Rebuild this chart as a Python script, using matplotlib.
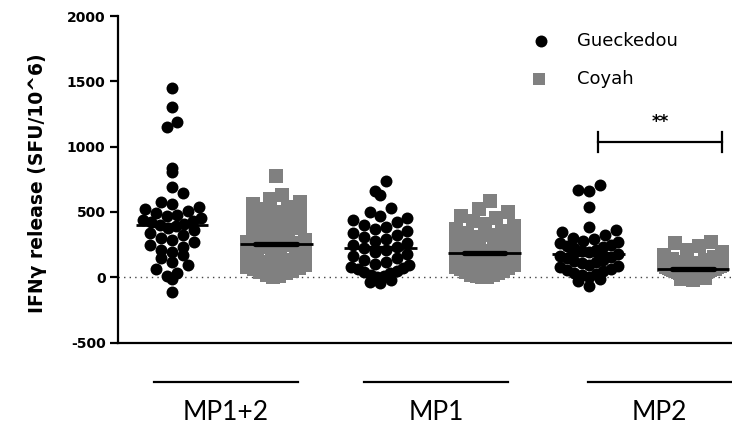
import numpy as np
import matplotlib
matplotlib.use("Agg")
import matplotlib.pyplot as plt

plt.rcParams["axes.unicode_minus"] = False

# values (IFNg SFU / 10^6)
gue_mp12 = [1447, 1306, 1191, 1153, 834, 808, 693, 642, 573, 560, 540, 520, 510, 490,
            480, 470, 455, 440, 430, 420, 410, 400, 390, 375, 360, 340, 320, 300, 285,
            270, 250, 230, 210, 190, 170, 150, 120, 90, 60, 30, 10, -15, -113]
coy_mp12 = [777, 629, 600, 578, 560, 540, 520, 500, 480, 460, 440, 420, 400, 380, 360,
            340, 320, 300, 285, 270, 260, 253, 245, 235, 225, 210, 195, 180, 165, 150,
            135, 120, 105, 90, 80, 70, 60, 50, 40, 30, 20, 10, 0]
gue_mp1 = [734, 662, 631, 527, 496, 470, 455, 440, 420, 400, 385, 370, 355, 340, 325,
           310, 295, 280, 265, 250, 235, 220, 205, 190, 175, 160, 145, 130, 115, 100,
           90, 80, 70, 60, 50, 40, 30, 20, 10, 0, -20, -35, -46]
coy_mp1 = [585, 521, 498, 470, 450, 430, 410, 390, 370, 350, 335, 320, 305, 290, 275,
           260, 245, 230, 215, 200, 190, 184, 178, 170, 160, 150, 140, 130, 120, 110,
           100, 90, 80, 70, 60, 50, 40, 30, 20, 15, 10, 5, 0]
gue_mp2 = [706, 670, 662, 534, 386, 360, 343, 322, 300, 290, 280, 270, 260, 250, 240,
           230, 220, 210, 200, 190, 176, 165, 155, 145, 135, 125, 115, 105, 95, 85,
           75, 65, 55, 45, 35, 25, 15, 5, -10, -30, -67]
coy_mp2 = [266, 262, 240, 210, 190, 170, 155, 140, 130, 120, 110, 100, 95, 90, 85,
           80, 75, 70, 66, 63, 61, 58, 55, 50, 45, 40, 36, 32, 28, 24, 20, 17, 14,
           11, 8, 5, 3, 0, -5, -10, -20]

groups = [gue_mp12, coy_mp12, gue_mp1, coy_mp1, gue_mp2, coy_mp2]
sites = ["Gueckedou", "Coyah"]
peptides = ["MP1+2", "MP1", "MP2"]
site_color = {"Gueckedou": "black", "Coyah": "#808080"}
site_marker = {"Gueckedou": "o", "Coyah": "s"}

PX_X = 104.2        # pixels per x unit
PX_Y = 0.1304       # pixels per y unit


def spread(vals, d=12.0, maxoff=29.0):
    # prism-like scatter: bin by marker height, spread each bin sideways
    vals = np.asarray(vals, dtype=float)
    ypx = vals * PX_Y
    bins = np.floor(ypx / d).astype(int)
    offs = np.zeros(len(vals))
    for b in np.unique(bins):
        idx = np.where(bins == b)[0]
        idx = idx[np.argsort(vals[idx])]
        n = len(idx)
        if n == 1:
            continue
        sp = min(d * 0.9, 2 * maxoff / (n - 1))
        pos = (np.arange(n) - (n - 1) / 2) * sp
        order = np.argsort(np.abs(pos), kind="stable")
        offs[idx] = pos[order]
    return offs / PX_X


fig = plt.figure(figsize=(7.32, 4.25), dpi=100)
ax = fig.add_axes([118 / 732, 1 - 342.5 / 425, 614 / 732, 326.5 / 425])

for pos, vals in enumerate(groups):
    site = sites[pos % 2]
    vals = np.array(vals, dtype=float)
    xs = pos + spread(vals, d=12 if site == "Gueckedou" else 13)
    ms = 8.6 if site == "Gueckedou" else 9.4
    ax.scatter(xs, vals, s=ms ** 2, marker=site_marker[site], color=site_color[site],
               linewidths=0, zorder=3)
    med = np.median(vals)
    ax.plot([pos - 0.35, pos + 0.35], [med, med], color="black", lw=2.0, zorder=4,
            solid_capstyle="butt")
    ax.plot([pos - 0.2, pos + 0.2], [med, med], color="black", lw=3.8, zorder=4,
            solid_capstyle="round")

ax.axhline(0, color="#444444", lw=1.0, ls=(0, (1, 3)), zorder=1)

ax.set_xlim(-0.518, 5.374)
ax.set_ylim(-500, 2000)
ax.set_yticks([-500, 0, 500, 1000, 1500, 2000])
ax.set_xticks([])
for s in ["top", "right"]:
    ax.spines[s].set_visible(False)
for s in ["left", "bottom"]:
    ax.spines[s].set_linewidth(1.6)
ax.tick_params(axis="y", length=6, width=1.6, pad=3, labelsize=10)
for lab in ax.get_yticklabels():
    lab.set_fontweight("bold")

fig.text(38 / 732, 1 - 183 / 425, "IFN\u03b3 release (SFU/10^6)", rotation=90,
         ha="center", va="center", fontsize=13.5, fontweight="bold")

# significance bracket
ax.plot([4.09, 5.28], [1035, 1035], color="black", lw=1.6)
ax.plot([4.09, 4.09], [960, 1110], color="black", lw=1.6)
ax.plot([5.28, 5.28], [960, 1110], color="black", lw=1.6)
ax.text(4.685, 1185, "**", ha="center", va="center", fontsize=12, fontweight="bold")

# legend
ax.scatter([0.689], [0.923], s=8.6 ** 2, marker="o", color="black", linewidths=0,
           transform=ax.transAxes, clip_on=False)
ax.scatter([0.686], [0.807], s=9.4 ** 2 * 0.8, marker="s", color="#808080", linewidths=0,
           transform=ax.transAxes, clip_on=False)
ax.text(0.748, 0.923, "Gueckedou", transform=ax.transAxes, va="center", fontsize=13)
ax.text(0.748, 0.807, "Coyah", transform=ax.transAxes, va="center", fontsize=13)

# peptide group labels under the axis
xt = ax.get_xaxis_transform()
spans = [(-0.173, 1.209), (1.843, 3.225), (3.99, 5.37)]
for (a, b), name in zip(spans, peptides):
    ax.plot([a, b], [-0.121, -0.121], color="black", lw=1.6, transform=xt, clip_on=False)
    ax.text((a + b) / 2, -0.215, name, transform=xt, ha="center", va="center",
            fontsize=19, family="Lato")

fig.savefig("out.png", dpi=100)
